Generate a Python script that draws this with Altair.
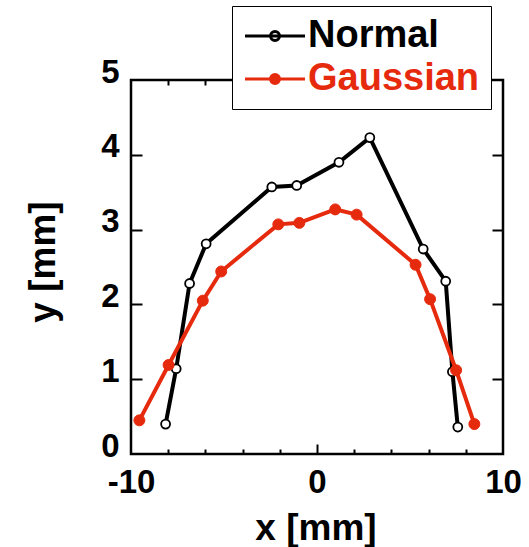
import altair as alt
import pandas as pd

series_names = ["Normal", "Gaussian"]
normal_x = [-8.14, -7.57, -6.85, -5.96, -2.43, -1.09, 1.18, 2.84, 5.71, 6.92, 7.28, 7.57]
normal_y = [0.40, 1.14, 2.28, 2.81, 3.57, 3.59, 3.90, 4.23, 2.74, 2.31, 1.10, 0.36]
gauss_x = [-9.55, -7.98, -6.14, -5.15, -2.08, -0.95, 0.98, 2.13, 5.30, 6.08, 7.48, 8.46]
gauss_y = [0.45, 1.19, 2.05, 2.44, 3.07, 3.09, 3.27, 3.20, 2.53, 2.07, 1.12, 0.40]
x_label_values = [-10, 0, 10]
x_tick_values = [-8, -6, -4, -2, 0, 2, 4, 6, 8]
y_label_values = [0, 1, 2, 3, 4, 5]
y_tick_values = [1, 2, 3, 4]

rows = []
for i, (x, y) in enumerate(zip(normal_x, normal_y)):
    rows.append({"series": "Normal", "i": i, "x": x, "y": y})
for i, (x, y) in enumerate(zip(gauss_x, gauss_y)):
    rows.append({"series": "Gaussian", "i": i, "x": x, "y": y})
df = pd.DataFrame(rows)

W, H = 372, 374
RED = "#e62a0d"
FONT = "Liberation Sans"

xscale = alt.Scale(domain=[-10, 10], nice=False, zero=False)
yscale = alt.Scale(domain=[0, 5], nice=False, zero=False)
stroke_scale = alt.Scale(domain=series_names, range=["black", RED])
fill_scale = alt.Scale(domain=series_names, range=["white", RED])

legend = alt.Legend(
    title=None, orient="none", legendX=101, legendY=-74,
    symbolType="M-2,0H2M0.3,0A0.3,0.3,0,1,1,-0.3,0A0.3,0.3,0,1,1,0.3,0Z",
    symbolSize=900, symbolStrokeWidth=3,
    labelFontSize=38, labelFont=FONT, labelFontWeight="bold", labelLimit=0,
    labelColor={"expr": "datum.value == 'Gaussian' ? '%s' : 'black'" % RED},
    fillColor="white", strokeColor="black",
    padding=11, rowPadding=5, labelOffset=14, symbolOffset=13,
)

tick_size_x = {"condition": {"test": "datum.value == 0", "value": 10}, "value": 5}

def x_tick_axis(orient):
    return alt.Axis(orient=orient, offset=-H, values=x_tick_values, labels=False,
                    domain=False, grid=False, title=None, tickSize=tick_size_x,
                    tickWidth=2, tickColor="black")

def y_tick_axis(orient):
    return alt.Axis(orient=orient, offset=-W, values=y_tick_values, labels=False,
                    domain=False, grid=False, title=None, tickSize=11,
                    tickWidth=2, tickColor="black")

base = alt.Chart(df)

lines = base.mark_line(strokeWidth=4, strokeJoin="miter").encode(
    x=alt.X("x:Q", scale=xscale, axis=alt.Axis(
        orient="bottom", values=x_label_values, ticks=False, grid=False, domain=False,
        labelFontSize=33, labelFont=FONT, labelFontWeight="bold", labelColor="black",
        labelBaseline="alphabetic", labelPadding=38, tickSize=0, labelFlush=False,
        labelExpr="'' + datum.value",
        title="x [mm]", titleFontSize=37, titleFont=FONT, titleFontWeight="bold",
        titleColor="black", titleX=184.5, titleY=85, titleBaseline="alphabetic",
        titleAlign="center")),
    y=alt.Y("y:Q", scale=yscale, axis=alt.Axis(
        orient="left", values=y_label_values, ticks=False, grid=False, domain=False,
        labelFontSize=33, labelFont=FONT, labelFontWeight="bold", labelColor="black",
        labelBaseline="alphabetic", labelPadding=12, labelOffset=2, tickSize=0,
        labelFlush=False,
        title="y [mm]", titleFontSize=37, titleFont=FONT, titleFontWeight="bold",
        titleColor="black", titleX=-77, titleY=181.5, titleAngle=270,
        titleBaseline="alphabetic", titleAlign="center")),
    stroke=alt.Stroke("series:N", scale=stroke_scale, legend=legend),
    order="i:Q",
    detail="series:N",
)

pts_normal = base.transform_filter(alt.datum.series == "Normal").mark_point(
    filled=False, size=80, opacity=1, strokeWidth=3.5).encode(
    x=alt.X("x:Q", scale=xscale, axis=x_tick_axis("top")),
    y=alt.Y("y:Q", scale=yscale, axis=y_tick_axis("right")),
    stroke=alt.Stroke("series:N", scale=stroke_scale, legend=legend),
    fill=alt.Fill("series:N", scale=fill_scale, legend=legend),
    strokeWidth=alt.value(1.8),
)

pts_gauss = base.transform_filter(alt.datum.series == "Gaussian").mark_point(
    filled=True, size=120, opacity=1, strokeWidth=3.5).encode(
    x=alt.X("x:Q", scale=xscale, axis=x_tick_axis("bottom")),
    y=alt.Y("y:Q", scale=yscale, axis=y_tick_axis("left")),
    stroke=alt.Stroke("series:N", scale=stroke_scale, legend=legend),
    fill=alt.Fill("series:N", scale=fill_scale, legend=legend),
    strokeWidth=alt.value(1),
)

frame = alt.Chart(pd.DataFrame({"f": [0]})).mark_rect(
    fillOpacity=0, stroke="black", strokeWidth=2.5).encode(
    x=alt.value(0), x2=alt.value(W), y=alt.value(0), y2=alt.value(H))

chart = alt.layer(lines, pts_normal, pts_gauss, frame).resolve_axis(
    x="independent", y="independent"
).properties(
    width=W, height=H,
    autosize=alt.AutoSizeParams(type="none"),
    padding={"left": 131, "top": 80, "right": 26, "bottom": 93},
    background="white",
).configure_view(stroke="black", strokeWidth=2).configure_axis(
    tickColor="black", domainColor="black", tickWidth=2, domainWidth=2)

chart.save("out.html", embed_options={"renderer": "svg", "actions": False})
